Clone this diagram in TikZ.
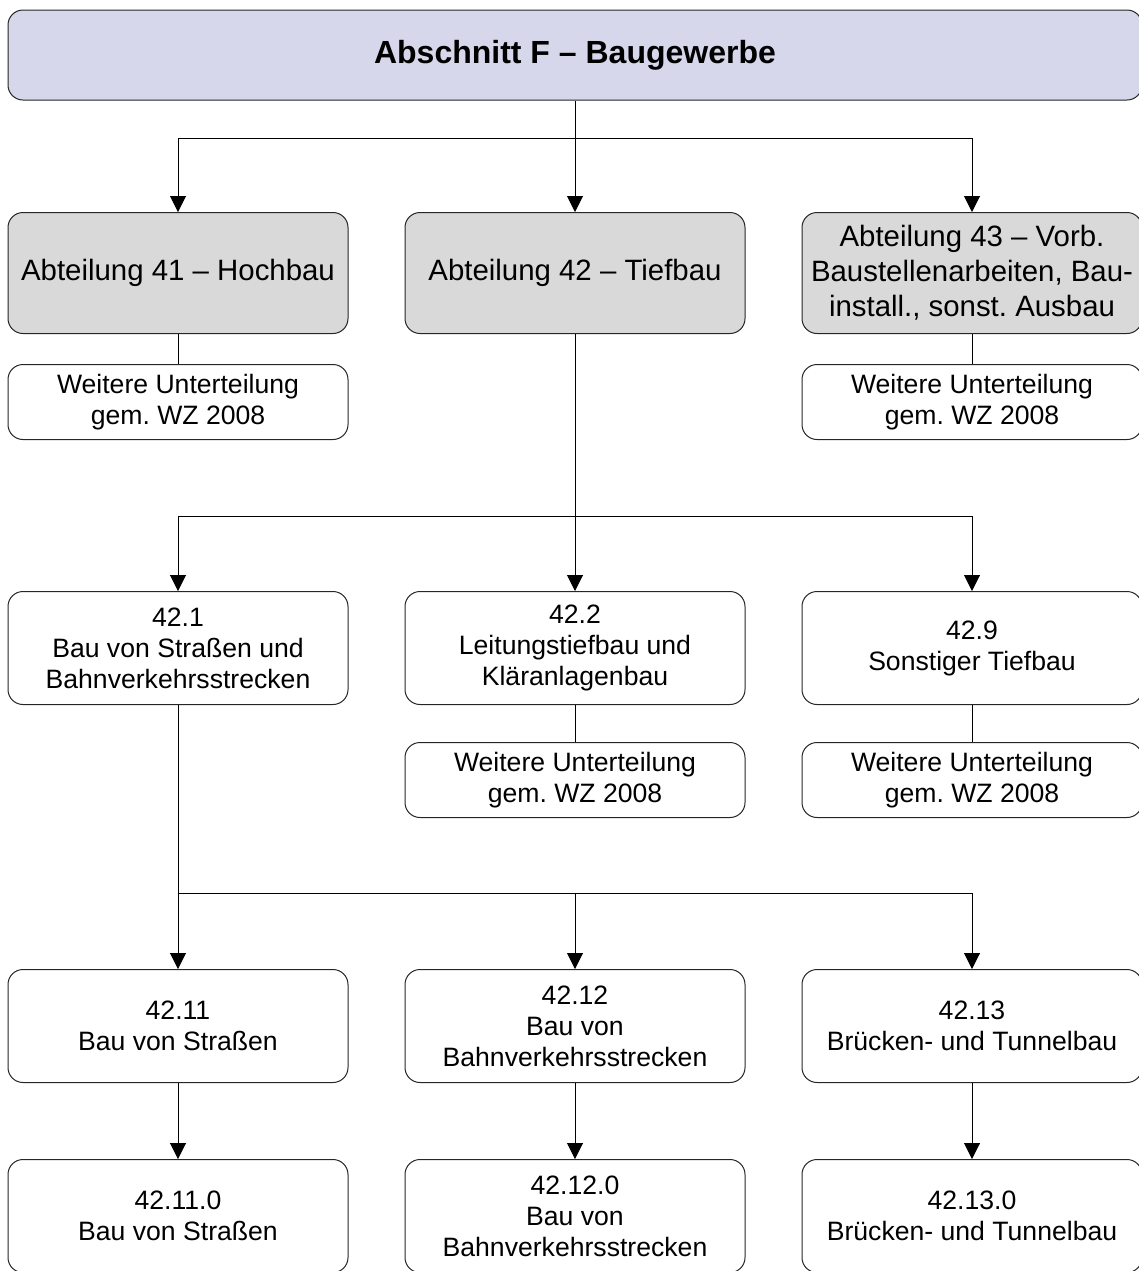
\documentclass[tikz,border=0pt]{standalone}
\usepackage{fontspec}
\setmainfont{Liberation Sans}
\frenchspacing
\usetikzlibrary{arrows.meta, positioning}
\tikzstyle{box}=[draw=black!85, line width=0.5pt, rounded corners=7.5pt, minimum width=170pt, align=center, inner sep=2pt]
\tikzstyle{titlebox}=[box, fill={rgb,255:red,214;green,215;blue,234}, minimum width=567pt, minimum height=45pt, font=\bfseries\fontsize{16}{18.5}\selectfont]
\tikzstyle{abt}=[box, fill=gray!30, minimum height=60.5pt, font=\fontsize{14.7}{17.5}\selectfont]
\tikzstyle{info}=[box, minimum height=37.5pt, font=\fontsize{13.3}{15.5}\selectfont]
\tikzstyle{grp}=[box, minimum height=56.5pt, font=\fontsize{13.3}{15.5}\selectfont]
\tikzstyle{arrow}=[-{Triangle[width=8pt,length=8pt]}]
\tikzstyle{link}=[line width=0.5pt]

\begin{document}
\begin{tikzpicture}[x=0.5pt, y=-0.5pt]
  \useasboundingbox (0,0) rectangle (1139,1271);
  % Abschnitt
  \node[titlebox] (F) at (575,55) {Abschnitt F – Baugewerbe};
  % Abteilungen
  \node[abt] (A41) at (178,273) {Abteilung 41 – Hochbau};
  \node[abt] (A42) at (575,273) {Abteilung 42 – Tiefbau};
  \node[abt] (A43) at (972,273) {Abteilung 43 – Vorb.\\Baustellenarbeiten, Bau-\\install., sonst. Ausbau};
  \node[info] (W41) at (178,402) {Weitere Unterteilung\\gem. WZ 2008};
  \node[info] (W43) at (972,402) {Weitere Unterteilung\\gem. WZ 2008};
  % Gruppen
  \node[grp] (G421) at (178,648) {42.1\\Bau von Straßen und\\Bahnverkehrsstrecken};
  \node[grp] (G422) at (575,648) {42.2\\Leitungstiefbau und\\Kläranlagenbau};
  \node[grp] (G429) at (972,648) {42.9\\Sonstiger Tiefbau};
  \node[info] (W422) at (575,780) {Weitere Unterteilung\\gem. WZ 2008};
  \node[info] (W429) at (972,780) {Weitere Unterteilung\\gem. WZ 2008};
  % Klassen
  \node[grp] (K4211) at (178,1026) {42.11\\Bau von Straßen};
  \node[grp] (K4212) at (575,1026) {42.12\\Bau von\\Bahnverkehrsstrecken};
  \node[grp] (K4213) at (972,1026) {42.13\\Brücken- und Tunnelbau};
  % Unterklassen
  \node[grp] (U4211) at (178,1216) {42.11.0\\Bau von Straßen};
  \node[grp] (U4212) at (575,1216) {42.12.0\\Bau von\\Bahnverkehrsstrecken};
  \node[grp] (U4213) at (972,1216) {42.13.0\\Brücken- und Tunnelbau};
  % Verzweigungen
  \coordinate (b1) at (575,138);
  \coordinate (b2) at (575,516);
  \coordinate (b3) at (178,893);
  \draw[link] (F) -- (b1);
  \draw[link, arrow] (b1) -| (A41);
  \draw[link, arrow] (b1) -- (A42);
  \draw[link, arrow] (b1) -| (A43);
  \draw[link] (A41) -- (W41);
  \draw[link] (A43) -- (W43);
  \draw[link] (A42) -- (b2);
  \draw[link, arrow] (b2) -| (G421);
  \draw[link, arrow] (b2) -- (G422);
  \draw[link, arrow] (b2) -| (G429);
  \draw[link] (G422) -- (W422);
  \draw[link] (G429) -- (W429);
  \draw[link] (G421) -- (b3);
  \draw[link, arrow] (b3) -- (K4211);
  \draw[link, arrow] (b3) -| (K4212);
  \draw[link, arrow] (b3) -| (K4213);
  \draw[link, arrow] (K4211) -- (U4211);
  \draw[link, arrow] (K4212) -- (U4212);
  \draw[link, arrow] (K4213) -- (U4213);
\end{tikzpicture}
\end{document}
